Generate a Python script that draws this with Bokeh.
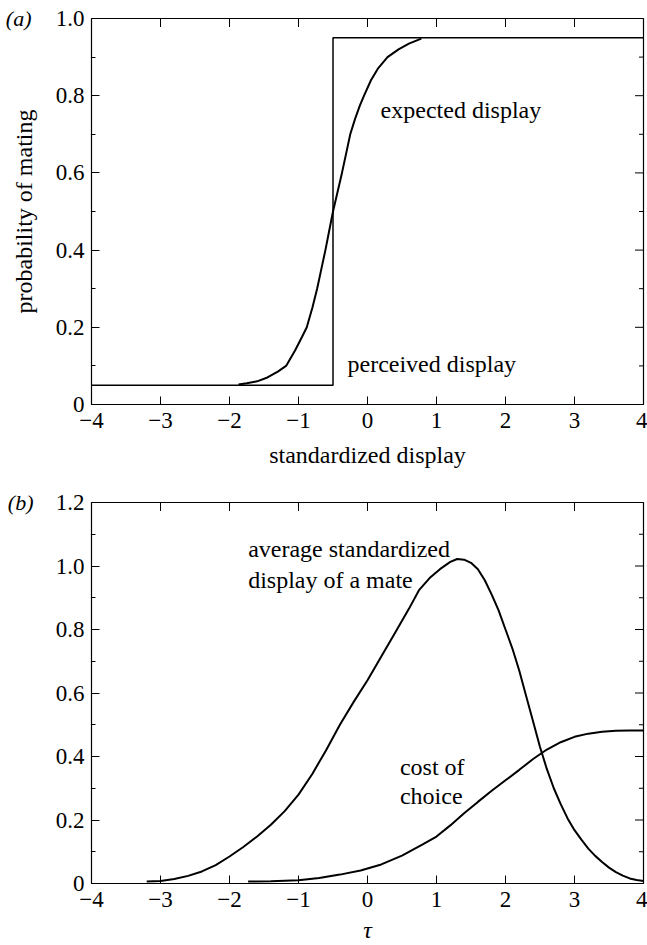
import math
from bokeh.plotting import figure
from bokeh.models import Label, LinearAxis, FixedTicker, Range1d
from bokeh.layouts import column
from bokeh.embed import file_html
from bokeh.resources import INLINE

# ---------------- data ----------------
# panel (a)
perceived_x = [-4.0, -0.5, -0.5, 4.0]
perceived_y = [0.05, 0.05, 0.95, 0.95]
expected_x = [-1.87, -1.75, -1.6, -1.45, -1.3, -1.18, -1.05, -0.95, -0.88, -0.8,
              -0.73, -0.67, -0.61, -0.555, -0.5, -0.435, -0.37, -0.31, -0.25,
              -0.18, -0.11, -0.05, 0.05, 0.15, 0.29, 0.45, 0.6, 0.78]
expected_y = [0.052, 0.055, 0.06, 0.07, 0.085, 0.1, 0.14, 0.175, 0.2, 0.25,
              0.3, 0.35, 0.4, 0.45, 0.5, 0.55, 0.6, 0.65, 0.7,
              0.74, 0.775, 0.8, 0.84, 0.87, 0.9, 0.92, 0.935, 0.948]

# panel (b)
mate_x = [-3.2, -3.0, -2.8, -2.6, -2.4, -2.2, -2.0, -1.8, -1.6, -1.4, -1.2, -1.0,
          -0.8, -0.6, -0.4, -0.2, 0.0, 0.2, 0.4, 0.6, 0.75, 0.9, 1.05, 1.2, 1.3,
          1.4, 1.5, 1.6, 1.7, 1.8, 1.9, 2.0, 2.1, 2.2, 2.3, 2.4, 2.5, 2.6, 2.7,
          2.8, 2.9, 3.0, 3.1, 3.2, 3.3, 3.4, 3.5, 3.6, 3.7, 3.8, 3.9, 4.0]
mate_y = [0.006, 0.008, 0.014, 0.024, 0.038, 0.058, 0.085, 0.115, 0.148, 0.185,
          0.228, 0.28, 0.345, 0.42, 0.5, 0.572, 0.64, 0.715, 0.79, 0.865, 0.925,
          0.962, 0.99, 1.013, 1.022, 1.02, 1.01, 0.99, 0.955, 0.91, 0.86, 0.8,
          0.74, 0.67, 0.59, 0.51, 0.43, 0.36, 0.3, 0.25, 0.205, 0.168, 0.138,
          0.11, 0.087, 0.068, 0.05, 0.036, 0.025, 0.016, 0.011, 0.008]
cost_x = [-1.73, -1.4, -1.0, -0.7, -0.4, -0.1, 0.2, 0.5, 0.8, 1.0, 1.2, 1.4, 1.6,
          1.8, 2.0, 2.2, 2.4, 2.6, 2.8, 3.0, 3.2, 3.4, 3.6, 3.8, 4.0]
cost_y = [0.006, 0.007, 0.01, 0.017, 0.028, 0.041, 0.06, 0.088, 0.123, 0.148,
          0.183, 0.221, 0.257, 0.292, 0.325, 0.358, 0.392, 0.422, 0.445, 0.462,
          0.472, 0.478, 0.481, 0.482, 0.482]

# ticks
x_ticks = [-4, -3, -2, -1, 0, 1, 2, 3, 4]
x_tick_labels = ["\u22124", "\u22123", "\u22122", "\u22121", "0", "1", "2", "3", "4"]
ya_ticks = [0.0, 0.2, 0.4, 0.6, 0.8, 1.0]
ya_tick_labels = ["0", "0.2", "0.4", "0.6", "0.8", "1.0"]
ya_minor = [0.1, 0.3, 0.5, 0.7, 0.9]
yb_ticks = [0.0, 0.2, 0.4, 0.6, 0.8, 1.0, 1.2]
yb_tick_labels = ["0", "0.2", "0.4", "0.6", "0.8", "1.0", "1.2"]
yb_minor = [0.1, 0.3, 0.5, 0.7, 0.9, 1.1]

# annotations (text, x, baseline y)
a_texts = [("expected display", 0.19, 0.762), ("perceived display", -0.29, 0.104)]
b_texts = [("average standardized", -1.73, 1.052), ("display of a mate", -1.73, 0.956),
           ("cost of", 0.47, 0.366), ("choice", 0.47, 0.275)]

FONT = "Liberation Serif"
TICK_FS = "23px"
TEXT_FS = "24px"


def style_axis(ax):
    ax.axis_line_color = None
    ax.major_tick_in = 8
    ax.major_tick_out = 0
    ax.minor_tick_in = 4
    ax.minor_tick_out = 0
    ax.major_tick_line_color = "black"
    ax.minor_tick_line_color = "black"
    ax.major_tick_line_width = 1
    ax.minor_tick_line_width = 1
    ax.major_label_text_font = FONT
    ax.major_label_text_color = "black"
    ax.major_label_text_font_size = TICK_FS
    ax.axis_label_text_font = FONT
    ax.axis_label_text_font_size = TEXT_FS
    ax.axis_label_text_font_style = "normal"
    ax.axis_label_text_color = "black"


def make_fig(height, btop, bbottom, yend, yt, ylabels, yminor):
    p = figure(width=647, height=height, x_range=Range1d(-4, 4), y_range=Range1d(0, yend),
               output_backend="svg", toolbar_location=None,
               x_axis_location=None, y_axis_location=None,
               min_border_left=91, min_border_right=4,
               min_border_top=btop, min_border_bottom=bbottom)
    p.grid.visible = False
    p.outline_line_color = "black"
    p.outline_line_width = 1.2
    p.background_fill_color = "white"
    p.border_fill_color = "white"

    below = LinearAxis(ticker=FixedTicker(ticks=x_ticks),
                       major_label_overrides={t: l for t, l in zip(x_ticks, x_tick_labels)})
    style_axis(below)
    below.major_label_standoff = 8
    left = LinearAxis(ticker=FixedTicker(ticks=yt, minor_ticks=yminor),
                      major_label_overrides={t: l for t, l in zip(yt, ylabels)})
    style_axis(left)
    left.major_label_standoff = 7
    p.add_layout(below, "below")
    p.add_layout(left, "left")

    # inward ticks on the top and right edges (half of each dash is clipped by the frame)
    n = len(x_ticks)
    p.scatter(x=x_ticks, y=[yend] * n, marker="dash", angle=math.pi / 2, size=17,
              line_color="black", line_width=1)
    p.scatter(x=[4] * len(yt), y=yt, marker="dash", size=17, line_color="black", line_width=1)
    p.scatter(x=[4] * len(yminor), y=yminor, marker="dash", size=9, line_color="black",
              line_width=1)
    return p, below, left


def panel_letter(p, text, tick, standoff):
    ax = LinearAxis(ticker=FixedTicker(ticks=[tick]), major_label_overrides={tick: text})
    ax.axis_line_color = None
    ax.major_tick_line_color = None
    ax.minor_tick_line_color = None
    ax.major_tick_in = 0
    ax.major_tick_out = 0
    ax.major_label_text_font = FONT
    ax.major_label_text_font_size = "22px"
    ax.major_label_text_font_style = "italic"
    ax.major_label_text_color = "black"
    ax.major_label_standoff = standoff
    p.add_layout(ax, "left")


# ---------------- panel (a) ----------------
pa, a_below, a_left = make_fig(480, 18, 76, 1.0, ya_ticks, ya_tick_labels, ya_minor)
a_below.axis_label = "standardized display"
a_below.axis_label_standoff = 11
a_left.axis_label = "probability of mating"
a_left.axis_label_standoff = 16
panel_letter(pa, "(a)", 1.0, -24)

pa.line(perceived_x, perceived_y, line_color="black", line_width=1.5)
pa.line(expected_x, expected_y, line_color="black", line_width=2)
for t, x, y in a_texts:
    pa.add_layout(Label(x=x, y=y, text=t, text_font=FONT, text_font_size=TEXT_FS,
                        text_align="left", text_baseline="alphabetic", text_color="black"))

# ---------------- panel (b) ----------------
pb, b_below, b_left = make_fig(465, 22, 57, 1.2, yb_ticks, yb_tick_labels, yb_minor)
b_below.axis_label = "\u03c4"
b_below.axis_label_text_font_style = "italic"
b_below.axis_label_text_font_size = "24px"
b_below.axis_label_standoff = 7
panel_letter(pb, "(b)", 1.2, 19)

pb.line(mate_x, mate_y, line_color="black", line_width=2)
pb.line(cost_x, cost_y, line_color="black", line_width=2)
for t, x, y in b_texts:
    pb.add_layout(Label(x=x, y=y, text=t, text_font=FONT, text_font_size=TEXT_FS,
                        text_align="left", text_baseline="alphabetic", text_color="black"))

layout = column(pa, pb, spacing=0)
open("out.html", "w").write(file_html(layout, INLINE))
